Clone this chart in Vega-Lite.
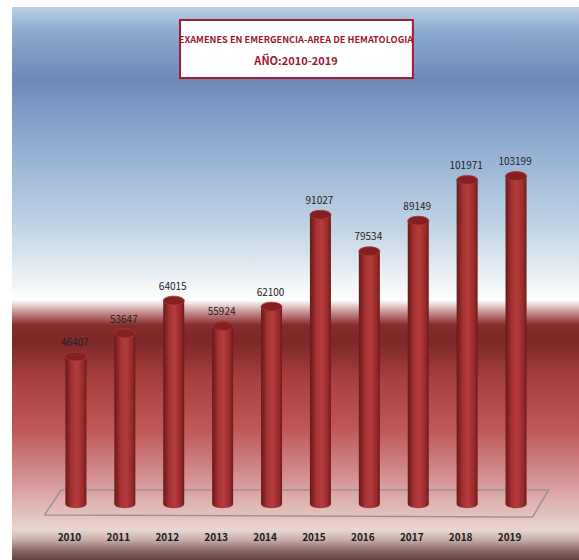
{
  "$schema": "https://vega.github.io/schema/vega-lite/v6.json",
  "autosize": {"type": "none"},
  "padding": {"left": 12, "top": 7, "right": 0, "bottom": 0},
  "width": 567,
  "height": 553,
  "background": "white",
  "config": {"view": {"stroke": "#8a8a8a", "strokeWidth": 1}},
  "datasets": {
    "exams": [
      {"year": 2010, "value": 46407},
      {"year": 2011, "value": 53647},
      {"year": 2012, "value": 64015},
      {"year": 2013, "value": 55924},
      {"year": 2014, "value": 62100},
      {"year": 2015, "value": 91027},
      {"year": 2016, "value": 79534},
      {"year": 2017, "value": 89149},
      {"year": 2018, "value": 101971},
      {"year": 2019, "value": 103199}
    ],
    "floor": [
      {"k": 0, "fx": 2009.357, "fy": -3461},
      {"k": 1, "fx": 2009.699, "fy": 4405},
      {"k": 2, "fx": 2019.663, "fy": 4405},
      {"k": 3, "fx": 2019.341, "fy": -4091},
      {"k": 4, "fx": 2009.357, "fy": -3461}
    ],
    "titlebox": [
      {"x1": 2012.129, "x2": 2016.89, "y1": 152297, "y2": 134046}
    ],
    "title1": [
      {"tx": 2014.5, "ty": 146004, "t": "EXAMENES EN EMERGENCIA-AREA DE HEMATOLOGIA"}
    ],
    "title2": [
      {"tx": 2014.5, "ty": 139081, "t": "AÑO:2010-2019"}
    ]
  },
  "resolve": {"scale": {"x": "shared", "y": "shared"}},
  "layer": [
    {
      "data": {"values": [{"bg": 1}]},
      "mark": {
        "type": "rect",
        "fill": {
          "gradient": "linear", "x1": 0, "y1": 0, "x2": 0, "y2": 1,
          "stops": [
            {"offset": 0, "color": "#bcd2e4"},
            {"offset": 0.042, "color": "#8eaacd"},
            {"offset": 0.132, "color": "#6f88b8"},
            {"offset": 0.259, "color": "#93b0d2"},
            {"offset": 0.403, "color": "#c2d5e5"},
            {"offset": 0.494, "color": "#eef3f7"},
            {"offset": 0.53, "color": "#ffffff"},
            {"offset": 0.552, "color": "#c89090"},
            {"offset": 0.575, "color": "#862c2c"},
            {"offset": 0.606, "color": "#7e2828"},
            {"offset": 0.675, "color": "#a84040"},
            {"offset": 0.765, "color": "#c05858"},
            {"offset": 0.837, "color": "#d08888"},
            {"offset": 0.892, "color": "#ddb0ae"},
            {"offset": 0.946, "color": "#e8d6d0"},
            {"offset": 0.964, "color": "#c8aca8"},
            {"offset": 0.982, "color": "#8a6a66"},
            {"offset": 1, "color": "#604444"}
          ]
        }
      },
      "encoding": {}
    },
    {
      "data": {"name": "floor"},
      "mark": {"type": "line", "stroke": "#9a9494", "strokeWidth": 1.5},
      "encoding": {
        "x": {"field": "fx", "type": "quantitative", "scale": {"domain": [2008.795, 2020.185], "nice": false, "zero": false}, "axis": {"values": [2010, 2011, 2012, 2013, 2014, 2015, 2016, 2017, 2018, 2019], "format": "d", "title": null, "orient": "bottom", "offset": -23, "zindex": 2, "domain": false, "ticks": false, "grid": false, "labelPadding": 0, "labelBaseline": "middle", "labelOffset": -7, "labelFont": "Noto Sans CJK SC", "labelFontSize": 10, "labelFontWeight": "bold", "labelColor": "#1a1a1a"}},
        "y": {"field": "fy", "type": "quantitative", "scale": {"domain": [-17621, 156388], "nice": false, "zero": false}, "axis": null},
        "order": {"field": "k"}
      }
    },
    {
      "data": {"name": "exams"},
      "layer": [
        {
          "mark": {
            "type": "bar", "width": 21,
            "fill": {
              "gradient": "linear", "x1": 0, "y1": 0, "x2": 1, "y2": 0,
              "stops": [
                {"offset": 0, "color": "#6a1818"},
                {"offset": 0.3, "color": "#a63232"},
                {"offset": 0.55, "color": "#b43c3c"},
                {"offset": 0.85, "color": "#962a2a"},
                {"offset": 1, "color": "#6e1a1a"}
              ]
            }
          },
          "encoding": {
            "x": {"field": "year", "type": "quantitative"},
            "y": {"field": "value", "type": "quantitative"},
            "y2": {"datum": 0}
          }
        },
        {
          "mark": {
            "type": "point", "filled": true, "size": 441, "opacity": 1,
            "shape": "M-1,0A1,0.4,0,1,0,1,0A1,0.4,0,1,0,-1,0Z",
            "fill": {
              "gradient": "linear", "x1": 0, "y1": 0, "x2": 1, "y2": 0,
              "stops": [
                {"offset": 0, "color": "#6a1818"},
                {"offset": 0.3, "color": "#a63232"},
                {"offset": 0.55, "color": "#b43c3c"},
                {"offset": 0.85, "color": "#962a2a"},
                {"offset": 1, "color": "#6e1a1a"}
              ]
            }
          },
          "encoding": {
            "x": {"field": "year", "type": "quantitative"},
            "y": {"datum": 0}
          }
        },
        {
          "mark": {
            "type": "point", "filled": true, "size": 441, "opacity": 1,
            "shape": "M-1,0A1,0.42,0,1,0,1,0A1,0.42,0,1,0,-1,0Z",
            "fill": "#862020", "stroke": "#a83a3a", "strokeWidth": 0.8
          },
          "encoding": {
            "x": {"field": "year", "type": "quantitative"},
            "y": {"field": "value", "type": "quantitative"}
          }
        },
        {
          "mark": {"type": "text", "dy": -14, "dx": -1, "font": "Noto Sans CJK SC", "fontSize": 10, "fill": "#222222"},
          "encoding": {
            "x": {"field": "year", "type": "quantitative"},
            "y": {"field": "value", "type": "quantitative"},
            "text": {"field": "value", "type": "quantitative", "format": "d"}
          }
        }
      ]
    },
    {
      "data": {"name": "titlebox"},
      "mark": {"type": "rect", "fill": "#ffffff", "stroke": "#a01e36", "strokeWidth": 2},
      "encoding": {
        "x": {"field": "x1", "type": "quantitative"},
        "x2": {"field": "x2"},
        "y": {"field": "y1", "type": "quantitative"},
        "y2": {"field": "y2"}
      }
    },
    {
      "data": {"name": "title1"},
      "mark": {"type": "text", "font": "Noto Sans CJK SC", "fontSize": 9.2, "fontWeight": "bold", "fill": "#9b1830", "baseline": "middle", "align": "center"},
      "encoding": {
        "x": {"field": "tx", "type": "quantitative"},
        "y": {"field": "ty", "type": "quantitative"},
        "text": {"field": "t"}
      }
    },
    {
      "data": {"name": "title2"},
      "mark": {"type": "text", "font": "Noto Sans CJK SC", "fontSize": 11, "fontWeight": "bold", "fill": "#9b1830", "baseline": "middle", "align": "center"},
      "encoding": {
        "x": {"field": "tx", "type": "quantitative"},
        "y": {"field": "ty", "type": "quantitative"},
        "text": {"field": "t"}
      }
    }
  ]
}
